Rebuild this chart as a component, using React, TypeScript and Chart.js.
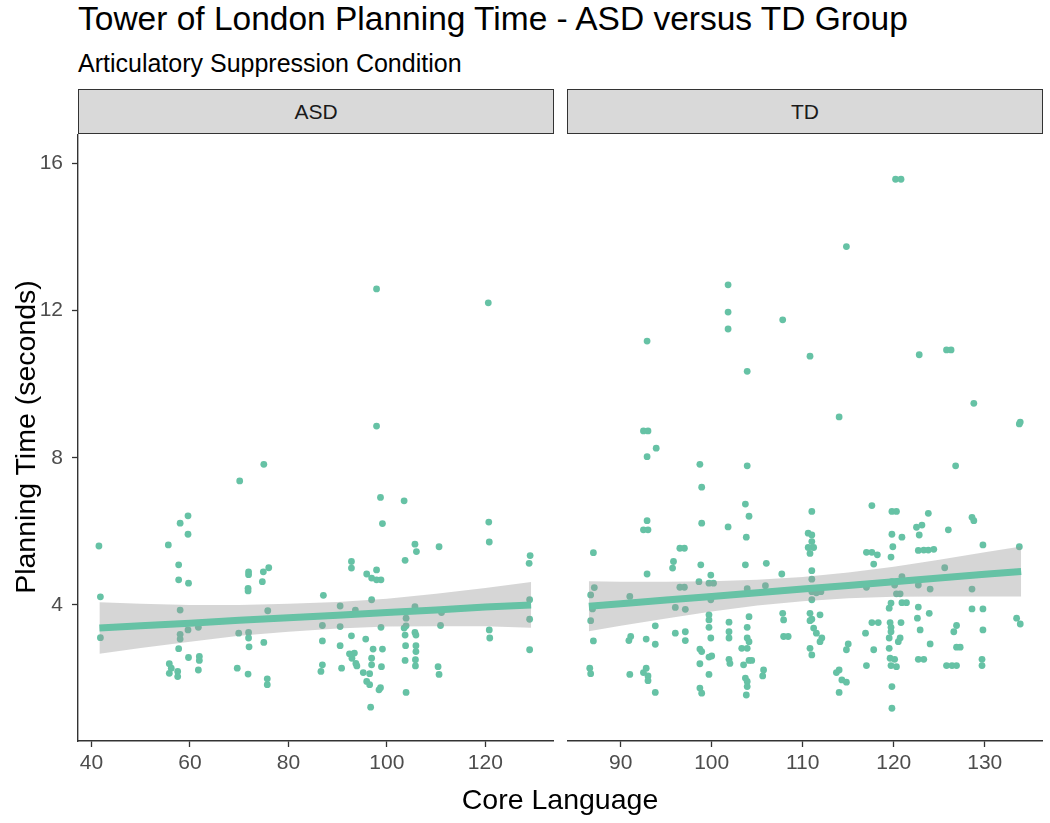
import React, { useEffect, useRef } from "react";
import { Chart, registerables } from "chart.js";

Chart.register(...registerables);

const FONT = '"Liberation Sans", Arial, Helvetica, sans-serif';
const GREEN = "#66C2A5";
const BAND = "rgba(153,153,153,0.4)";

// ---------- ASD panel data ----------
const asdX = [
  75.0, 70.1, 97.9, 120.6, 97.9, 98.7, 103.5,
  59.6, 58.0, 59.6, 55.6, 41.5, 57.7, 57.7, 59.7, 41.8, 71.9, 71.9, 74.9, 76.0,
  74.7, 71.8, 71.8, 58.0, 75.8, 59.6, 61.7, 58.0, 58.0, 41.8, 69.9, 71.9, 71.9,
  57.7, 72.0, 75.0, 59.7, 61.9, 61.9, 55.8, 56.2, 55.8, 57.5, 57.5, 61.7, 69.6,
  71.8, 75.7, 75.7,
  99.1, 120.7, 120.8, 105.7, 106.0, 110.6, 129.1, 128.9, 103.7, 92.8, 92.8, 95.9,
  97.9, 96.9, 98.8, 97.9, 87.1, 96.9, 129.0, 90.5, 93.6, 105.7, 111.1, 103.9,
  129.0, 86.9, 90.5, 98.8, 103.9, 103.5, 110.9, 120.8, 120.9, 105.7, 105.9, 103.7,
  92.8, 95.7, 86.9, 90.5, 103.8, 105.9, 105.9, 97.2, 99.1, 92.4, 93.4, 92.9, 93.7,
  93.9, 96.9, 96.9, 98.9, 103.7, 105.8, 105.8, 110.4, 110.6, 86.9, 86.6, 90.8,
  95.2, 96.5, 95.9, 96.5, 98.7, 98.4, 103.9, 96.7, 129.0,
];
const asdY = [
  7.82, 7.37, 12.59, 12.21, 8.86, 6.92, 6.83,
  6.42, 6.22, 5.92, 5.63, 5.6, 5.09, 4.68, 4.59, 4.22, 4.9, 4.82, 4.9, 5.01,
  4.63, 4.45, 4.38, 3.86, 3.84, 3.32, 3.39, 3.2, 3.07, 3.11, 3.23, 3.25, 3.1,
  2.81, 2.86, 2.98, 2.57, 2.6, 2.49, 2.4, 2.28, 2.14, 2.19, 2.05, 2.23, 2.28,
  2.12, 1.99, 1.83,
  6.21, 6.25, 5.71, 5.65, 5.45, 5.58, 5.34, 5.13, 5.21, 5.18, 5.0, 4.84,
  4.95, 4.73, 4.68, 4.68, 4.26, 4.14, 4.14, 3.97, 3.86, 3.95, 3.79, 3.64,
  3.61, 3.44, 3.41, 3.39, 3.43, 3.37, 3.44, 3.32, 3.1, 3.25, 3.18, 3.18,
  3.16, 3.07, 3.02, 2.89, 2.89, 2.89, 2.73, 2.8, 2.8, 2.67, 2.69, 2.55, 2.41,
  2.34, 2.55, 2.37, 2.32, 2.49, 2.51, 2.34, 2.32, 2.11, 2.37, 2.19, 2.28,
  2.16, 2.13, 1.92, 1.83, 1.75, 1.69, 1.62, 1.22, 2.78,
];
const asdFitX = [41.6, 50, 60, 70, 80, 90, 100, 110, 120, 129.3];
const asdFitY = [3.37, 3.43, 3.5, 3.58, 3.65, 3.72, 3.79, 3.86, 3.94, 4.0];
const asdLower = [2.67, 2.83, 3.0, 3.16, 3.27, 3.36, 3.41, 3.42, 3.42, 3.38];
const asdUpper = [4.07, 4.03, 4.0, 4.0, 4.03, 4.08, 4.17, 4.3, 4.46, 4.62];
const asdTicks = [40, 60, 80, 100, 120];

// ---------- TD panel data ----------
const tdX = [
  120.2, 120.8, 114.8, 101.8, 101.8, 101.8, 107.8, 92.9, 110.8, 103.9, 122.8,
  125.8, 126.3, 128.8, 114.0, 133.9, 133.8, 92.5, 93.0, 93.9, 92.9, 98.7, 103.9,
  98.9, 103.7, 104.1, 92.9, 92.5, 93.0, 98.9, 101.8, 103.8, 87.0, 96.5, 97.0,
  95.8, 95.7, 98.8, 103.7, 106.0, 107.7, 92.9, 99.9, 98.6, 99.7, 100.2, 87.1,
  96.5, 97.0, 103.9, 105.9, 86.7, 91.0, 99.9, 86.9, 96.0, 97.1, 99.7, 99.7,
  104.1, 107.8, 107.9, 86.7, 93.8, 99.7, 101.9, 103.9, 96.0, 97.1, 101.9, 101.9,
  107.9, 108.4, 91.1, 90.9, 92.8, 93.8, 87.0, 97.1, 99.9, 103.9, 104.1, 103.3,
  103.9, 98.7, 98.9, 99.7, 100.0, 101.9, 102.0, 98.7, 103.5, 104.1, 104.4, 105.7,
  105.6, 86.6, 86.7, 91.0, 92.8, 92.5, 93.0, 93.0, 99.7, 103.7, 103.9, 103.9,
  93.8, 98.7, 98.9, 103.8,
  126.8, 111.0, 117.6, 119.8, 120.3, 123.8, 128.6, 128.8, 122.5, 123.1, 126.0,
  110.6, 111.0, 119.8, 120.9, 122.8, 111.0, 111.2, 110.6, 110.8, 119.9, 117.0,
  117.6, 118.2, 122.7, 123.3, 123.8, 124.4, 129.8, 133.8, 119.7, 117.8, 111.0,
  125.6, 111.0, 120.9, 117.0, 119.8, 120.1, 122.7, 111.0, 111.5, 112.0, 120.3,
  120.7, 124.0, 128.6, 111.0, 119.7, 119.5, 120.9, 121.4, 122.7, 123.9, 128.6,
  129.8, 110.8, 111.0, 110.8, 111.9, 122.6, 117.6, 118.3, 119.6, 119.7, 119.7,
  120.8, 133.5, 133.9, 126.9, 126.6, 111.2, 111.5, 112.1, 111.9, 116.9, 122.9,
  129.8, 119.5, 120.7, 120.5, 124.0, 115.0, 114.8, 110.8, 111.0, 117.8, 119.5,
  126.9, 127.3, 122.7, 123.3, 117.0, 119.6, 120.1, 119.7, 120.3, 125.8, 126.4,
  126.9, 129.7, 129.7, 114.0, 113.7, 114.3, 114.8, 114.0, 119.8, 119.8,
];
const tdY = [
  15.57, 15.57, 13.74, 12.7, 11.96, 11.5, 11.75, 11.17, 10.76, 10.35, 10.8,
  10.93, 10.93, 9.48, 9.11, 8.97, 8.92, 8.73, 8.73, 8.26, 8.03, 7.82, 7.78,
  7.2, 6.74, 6.41, 6.29, 6.04, 6.04, 6.22, 6.12, 5.84, 5.42, 5.54, 5.54,
  5.18, 5.0, 5.09, 5.09, 5.13, 4.84, 4.84, 4.81, 4.63, 4.59, 4.59, 4.47,
  4.48, 4.48, 4.44, 4.52, 4.27, 4.23, 4.14, 3.89, 3.93, 3.88, 3.73, 3.59,
  3.68, 3.77, 3.59, 3.57, 3.43, 3.39, 3.53, 3.39, 3.23, 3.27, 3.27, 3.1,
  3.14, 3.14, 3.14, 3.03, 3.07, 2.93, 3.02, 3.03, 3.1, 3.1, 3.0, 2.82,
  2.82, 2.8, 2.73, 2.58, 2.61, 2.52, 2.41, 2.4, 2.37, 2.49, 2.49, 2.23,
  2.07, 2.28, 2.13, 2.11, 2.28, 2.16, 2.07, 1.94, 2.11, 2.01, 1.92, 1.78,
  1.62, 1.74, 1.6, 1.55,
  7.78, 6.54, 6.7, 6.54, 6.54, 6.49, 6.38, 6.29, 6.11, 6.17, 6.04,
  5.95, 5.9, 5.92, 5.84, 5.9, 5.72, 5.56, 5.56, 5.4, 5.58, 5.43,
  5.43, 5.36, 5.48, 5.49, 5.49, 5.51, 5.63, 5.58, 5.3, 5.11, 4.93,
  5.01, 4.7, 4.77, 4.48, 4.63, 4.54, 4.54, 4.36, 4.33, 4.36, 4.3,
  4.3, 4.43, 4.43, 4.14, 4.05, 3.91, 4.06, 4.06, 3.94, 3.77, 3.89,
  3.89, 3.77, 3.61, 3.57, 3.73, 3.64, 3.52, 3.52, 3.52, 3.39, 3.27,
  3.52, 3.64, 3.48, 3.44, 3.27, 3.37, 3.23, 3.1, 3.0, 3.23, 3.32,
  3.32, 3.1, 3.1, 3.0, 2.94, 2.94, 2.78, 2.82, 2.64, 2.78, 2.82,
  2.85, 2.85, 2.52, 2.52, 2.35, 2.55, 2.52, 2.35, 2.32, 2.35, 2.35,
  2.35, 2.52, 2.35, 2.23, 2.16, 1.96, 1.9, 1.62, 1.78, 1.19,
];
const tdFitX = [86.5, 90, 95, 100, 105, 110, 115, 120, 125, 130, 134.0];
const tdFitY = [3.96, 4.03, 4.13, 4.23, 4.33, 4.43, 4.53, 4.63, 4.73, 4.83, 4.91];
const tdLower = [3.28, 3.43, 3.63, 3.82, 3.98, 4.1, 4.18, 4.22, 4.23, 4.23, 4.23];
const tdUpper = [4.64, 4.63, 4.63, 4.64, 4.68, 4.76, 4.88, 5.04, 5.23, 5.43, 5.59];
const tdTicks = [90, 100, 110, 120, 130];

const yTicks = [4, 8, 12, 16];
const Y_MIN = 0.3;
const Y_MAX = 16.8;

const PANEL_TOP = 134;
const PANEL_H = 607;
const CANVAS_H = 823 - PANEL_TOP;

function xy(xs: number[], ys: number[]) {
  return xs.map((x, i) => ({ x, y: ys[i] }));
}

type PanelCfg = {
  xs: number[]; ys: number[];
  fitX: number[]; fitY: number[]; lower: number[]; upper: number[];
  xMin: number; xMax: number; xTicks: number[];
  showY: boolean; left: number; areaLeft: number;
};

function makeChart(canvas: HTMLCanvasElement, c: PanelCfg) {
  const tickFont = { family: FONT, size: 21 };
  const chart = new Chart(canvas, {
    type: "scatter",
    data: {
      datasets: [
        {
          type: "line",
          data: xy(c.fitX, c.fitY),
          borderColor: GREEN,
          borderWidth: 7,
          pointRadius: 0,
          fill: false,
          order: 0,
        } as any,
        {
          type: "line",
          data: xy(c.fitX, c.upper),
          borderColor: "rgba(0,0,0,0)",
          borderWidth: 0,
          pointRadius: 0,
          backgroundColor: BAND,
          fill: "+1",
          order: 1,
        } as any,
        {
          type: "line",
          data: xy(c.fitX, c.lower),
          borderColor: "rgba(0,0,0,0)",
          borderWidth: 0,
          pointRadius: 0,
          fill: false,
          order: 1,
        } as any,
        {
          type: "scatter",
          data: xy(c.xs, c.ys),
          backgroundColor: GREEN,
          borderWidth: 0,
          pointRadius: 3.4,
          order: 2,
        } as any,
      ],
    },
    options: {
      responsive: false,
      animation: false,
      devicePixelRatio: 1,
      events: [],
      layout: { padding: 0, autoPadding: false },
      plugins: { legend: { display: false }, tooltip: { enabled: false }, title: { display: false } },
      scales: {
        x: {
          type: "linear",
          min: c.xMin,
          max: c.xMax,
          afterBuildTicks: (s: any) => { s.ticks = c.xTicks.map((v) => ({ value: v })); },
          ticks: { color: "#4D4D4D", font: tickFont, padding: 4, maxRotation: 0, autoSkip: false },
          grid: { drawOnChartArea: false, drawTicks: true, tickLength: 6, tickColor: "#333333", tickWidth: 1.3 },
          border: { display: true, color: "#333333", width: 1.4 },
          afterFit: (s: any) => { s.height = CANVAS_H - PANEL_H; s.paddingLeft = 0; s.paddingRight = 0; },
        },
        y: {
          type: "linear",
          display: c.showY,
          min: Y_MIN,
          max: Y_MAX,
          afterBuildTicks: (s: any) => { s.ticks = yTicks.map((v) => ({ value: v })); },
          ticks: { color: "#4D4D4D", font: tickFont, padding: 9 },
          grid: { drawOnChartArea: false, drawTicks: true, tickLength: 6, tickColor: "#333333", tickWidth: 1.3 },
          border: { display: true, color: "#333333", width: 1.4 },
          afterFit: (s: any) => { s.width = c.areaLeft; s.paddingTop = 0; s.paddingBottom = 0; },
        },
      },
    } as any,
  });
  const ca = chart.chartArea;
  canvas.style.left = `${c.left + c.areaLeft - ca.left}px`;
  canvas.style.top = `${PANEL_TOP - ca.top}px`;
  return chart;
}

const strip: React.CSSProperties = {
  position: "absolute",
  top: 89,
  height: 45,
  boxSizing: "border-box",
  background: "#D9D9D9",
  border: "1.3px solid #333333",
  display: "flex",
  alignItems: "center",
  justifyContent: "center",
  font: `21px ${FONT}`,
  color: "#1A1A1A",
};

export default function App() {
  const asdRef = useRef<HTMLCanvasElement>(null);
  const tdRef = useRef<HTMLCanvasElement>(null);

  useEffect(() => {
    const a = makeChart(asdRef.current!, {
      xs: asdX, ys: asdY, fitX: asdFitX, fitY: asdFitY, lower: asdLower, upper: asdUpper,
      xMin: 37.25, xMax: 133.95, xTicks: asdTicks, showY: true, left: 0, areaLeft: 78,
    });
    const t = makeChart(tdRef.current!, {
      xs: tdX, ys: tdY, fitX: tdFitX, fitY: tdFitY, lower: tdLower, upper: tdUpper,
      xMin: 84.1, xMax: 136.4, xTicks: tdTicks, showY: false, left: 567, areaLeft: 0,
    });
    return () => { a.destroy(); t.destroy(); };
  }, []);

  return (
    <div style={{ position: "absolute", left: 0, top: 0, width: 1050, height: 823, background: "#fff", overflow: "hidden" }}>
      <div style={{ position: "absolute", left: 78, top: 2, font: `33.5px ${FONT}`, lineHeight: 1, whiteSpace: "nowrap", color: "#000" }}>
        Tower of London Planning Time - ASD versus TD Group
      </div>
      <div style={{ position: "absolute", left: 78, top: 51, font: `25px ${FONT}`, lineHeight: 1, whiteSpace: "nowrap", color: "#000" }}>
        Articulatory Suppression Condition
      </div>
      <div style={{ ...strip, left: 78, width: 476 }}>ASD</div>
      <div style={{ ...strip, left: 567, width: 476 }}>TD</div>
      <canvas ref={asdRef} width={554} height={CANVAS_H} style={{ position: "absolute", left: 0, top: PANEL_TOP }} />
      <canvas ref={tdRef} width={476} height={CANVAS_H} style={{ position: "absolute", left: 567, top: PANEL_TOP }} />
      <div style={{ position: "absolute", left: 260, width: 600, top: 785, textAlign: "center", font: `28.5px ${FONT}`, lineHeight: 1, color: "#000" }}>
        Core Language
      </div>
      <div style={{
        position: "absolute", left: 25 - 300, top: 437 - 14, width: 600, height: 28, textAlign: "center",
        font: `28.5px ${FONT}`, lineHeight: "28px", color: "#000", transform: "rotate(-90deg)", whiteSpace: "nowrap",
      }}>
        Planning Time (seconds)
      </div>
    </div>
  );
}
